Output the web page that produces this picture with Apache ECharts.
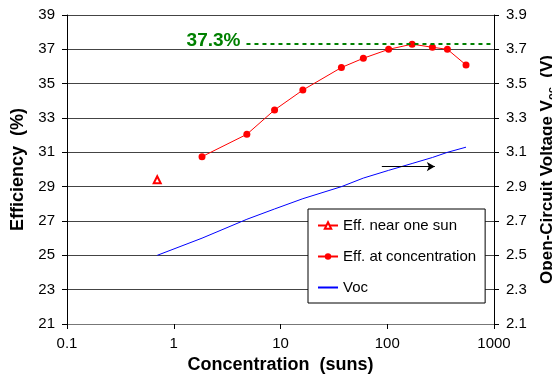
<!DOCTYPE html>
<html>
<head>
<meta charset="utf-8">
<script src="https://cdn.jsdelivr.net/npm/echarts@6/dist/echarts.min.js"></script>
<style>
  html, body { margin: 0; padding: 0; background: #fff; }
  #chart { width: 552px; height: 379px; }
</style>
</head>
<body>
<div id="chart"></div>
<script>
  // values
  const nearSunConc = [0.7];
  const nearSunEff = [29.4];
  const concSuns = [1.84, 4.84, 8.8, 16.2, 37.2, 59.7, 103, 171, 265, 366, 547];
  const concEff = [30.75, 32.05, 33.47, 34.63, 35.94, 36.48, 37.0, 37.3, 37.12, 37.0, 36.09];
  const vocConc = [0.7, 1.84, 4.84, 8.8, 16.2, 37.2, 59.7, 103, 171, 265, 366, 547];
  const vocVals = [2.50, 2.60, 2.71, 2.77, 2.83, 2.90, 2.95, 2.995, 3.035, 3.07, 3.10, 3.13];
  const effTicks = [21, 23, 25, 27, 29, 31, 33, 35, 37, 39];
  const vocTicks = [2.1, 2.3, 2.5, 2.7, 2.9, 3.1, 3.3, 3.5, 3.7, 3.9];
  const peakEff = 37.3;

  const FONT = '"Liberation Sans", Arial, sans-serif';

  function pairs(xs, ys) {
    return xs.map((x, i) => [x, ys[i]]);
  }

  const chart = echarts.init(document.getElementById('chart'));
  chart.setOption({
    animation: false,
    textStyle: { fontFamily: FONT },
    grid: { left: 67, right: 58, top: 15, bottom: 55, outerBoundsMode: 'none', containLabel: false },
    legend: {
      orient: 'vertical',
      left: 308,
      top: 209,
      padding: [9, 9, 8, 9],
      itemWidth: 20,
      itemHeight: 8,
      itemGap: 16,
      backgroundColor: '#fff',
      borderColor: '#000',
      borderWidth: 1,
      itemStyle: { borderWidth: 1 },
      textStyle: { fontFamily: FONT, fontSize: 15, color: '#000' },
      data: [
        'Eff. near one sun',
        'Eff. at concentration',
        // line only, hide the symbol in the icon
        { name: 'Voc', itemStyle: { opacity: 0 } }
      ]
    },
    xAxis: {
      type: 'log',
      logBase: 10,
      min: 0.1,
      max: 1000,
      name: 'Concentration  (suns)',
      nameLocation: 'middle',
      nameGap: 26,
      nameTextStyle: { fontFamily: FONT, fontSize: 18, fontWeight: 'bold', color: '#000' },
      axisLine: { show: true, onZero: false, lineStyle: { color: '#777', width: 1 } },
      axisTick: { show: true, length: 5, lineStyle: { color: '#000' } },
      axisLabel: {
        fontFamily: FONT, fontSize: 15, color: '#000', margin: 12,
        formatter: v => String(Math.round(v * 10) / 10)
      },
      splitLine: { show: false },
      minorTick: { show: false }
    },
    yAxis: [
      {
        type: 'value',
        min: 21,
        max: 39,
        name: 'Efficiency  (%)',
        nameLocation: 'middle',
        nameGap: 40,
        nameRotate: 90,
        nameTextStyle: { fontFamily: FONT, fontSize: 18, fontWeight: 'bold', color: '#000' },
        axisLine: { show: true, lineStyle: { color: '#000' } },
        axisTick: { show: true, length: 5, customValues: effTicks, lineStyle: { color: '#000' } },
        axisLabel: { fontFamily: FONT, fontSize: 15, color: '#000', margin: 12, customValues: effTicks },
        splitLine: { show: true, lineStyle: { color: '#444', width: 1 } }
      },
      {
        type: 'value',
        min: 2.1,
        max: 3.9,
        position: 'right',
        name: 'Open-Circuit Voltage V{sub|oc}  (V)',
        nameLocation: 'middle',
        nameGap: 44,
        nameRotate: 90,
        nameTextStyle: {
          fontFamily: FONT, fontSize: 17, fontWeight: 'bold', color: '#000',
          rich: { sub: { fontFamily: FONT, fontSize: 11, fontWeight: 'bold', color: '#000', padding: [8, 0, 0, 0] } }
        },
        axisLine: { show: true, lineStyle: { color: '#000' } },
        axisTick: { show: true, length: 5, customValues: vocTicks, lineStyle: { color: '#000' } },
        axisLabel: {
          fontFamily: FONT, fontSize: 15, color: '#000', margin: 12, customValues: vocTicks,
          formatter: v => v.toFixed(1)
        },
        splitLine: { show: false }
      }
    ],
    series: [
      {
        name: 'Eff. near one sun',
        type: 'line',
        data: pairs(nearSunConc, nearSunEff),
        symbol: 'emptyTriangle',
        symbolSize: 7,
        itemStyle: { color: '#ff0000', borderWidth: 1 },
        lineStyle: { color: '#ff0000', width: 1 }
      },
      {
        name: 'Eff. at concentration',
        type: 'line',
        data: pairs(concSuns, concEff),
        symbol: 'circle',
        symbolSize: 7,
        itemStyle: { color: '#ff0000' },
        lineStyle: { color: '#ff0000', width: 1 },
        markLine: {
          silent: true,
          symbol: 'none',
          lineStyle: { color: '#008000', type: [4, 4], width: 2 },
          label: {
            show: true,
            position: 'start',
            distance: 6,
            formatter: peakEff + '%',
            color: '#008000',
            fontFamily: FONT,
            fontSize: 19,
            fontWeight: 'bold',
            offset: [0, -3]
          },
          data: [[{ coord: [4.8, peakEff] }, { coord: [1000, peakEff] }]]
        }
      },
      {
        name: 'Voc',
        type: 'line',
        yAxisIndex: 1,
        data: pairs(vocConc, vocVals),
        symbol: 'none',
        itemStyle: { color: '#0000ff' },
        lineStyle: { color: '#0000ff', width: 1 },
        // arrow showing that Voc goes with the right axis
        markLine: {
          silent: true,
          symbol: ['none', 'arrow'],
          symbolSize: [7, 8],
          label: { show: false },
          lineStyle: { color: '#000', type: 'solid', width: 1 },
          data: [[{ coord: [89, 3.017] }, { coord: [279, 3.017] }]]
        }
      }
    ]
  });
</script>
</body>
</html>
